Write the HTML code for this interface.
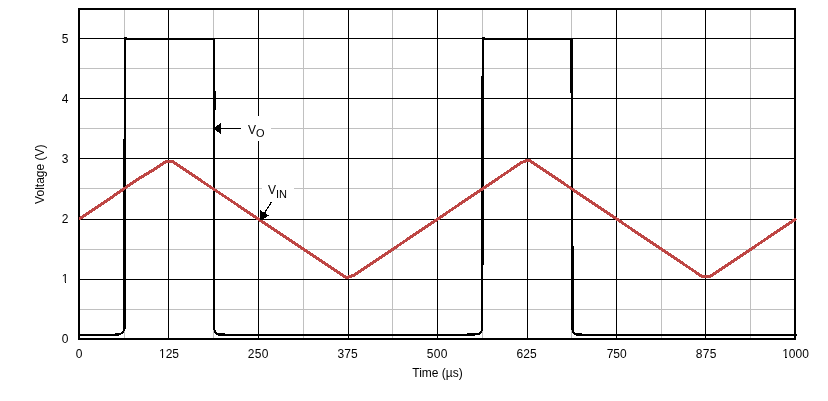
<!DOCTYPE html>
<html lang="en"><head><meta charset="utf-8"><title>Voltage vs Time</title>
<style>html,body{margin:0;padding:0;background:#fff}body{width:828px;height:401px;overflow:hidden}svg{display:block}text{font-family:"Liberation Sans",Arial,Helvetica,sans-serif;fill:#000}</style>
</head><body>
<svg width="828" height="401" viewBox="0 0 828 401">
<rect x="0" y="0" width="828" height="401" fill="#fff"/>
<g shape-rendering="crispEdges">
<g fill="#c0c0c0">
<rect x="124" y="10" width="1" height="328"/>
<rect x="213" y="10" width="1" height="328"/>
<rect x="303" y="10" width="1" height="328"/>
<rect x="392" y="10" width="1" height="328"/>
<rect x="482" y="10" width="1" height="328"/>
<rect x="571" y="10" width="1" height="328"/>
<rect x="661" y="10" width="1" height="328"/>
<rect x="750" y="10" width="1" height="328"/>
<rect x="80" y="68" width="714" height="1"/>
<rect x="80" y="128" width="714" height="1"/>
<rect x="80" y="188" width="714" height="1"/>
<rect x="80" y="249" width="714" height="1"/>
<rect x="80" y="309" width="714" height="1"/>
</g>
<g fill="#000">
<rect x="168" y="10" width="1" height="328"/>
<rect x="258" y="10" width="1" height="328"/>
<rect x="348" y="10" width="1" height="328"/>
<rect x="437" y="10" width="1" height="328"/>
<rect x="527" y="10" width="1" height="328"/>
<rect x="616" y="10" width="1" height="328"/>
<rect x="705" y="10" width="1" height="328"/>
<rect x="80" y="38" width="714" height="1"/>
<rect x="80" y="98" width="714" height="1"/>
<rect x="80" y="158" width="714" height="1"/>
<rect x="80" y="219" width="714" height="1"/>
<rect x="80" y="279" width="714" height="1"/>
</g>
<rect x="241" y="116" width="30" height="25" fill="#fff"/>
<rect x="262" y="177" width="32" height="25" fill="#fff"/>
<rect x="79" y="9" width="716" height="330" fill="none" stroke="#000" stroke-width="2"/>
</g>
<g fill="none" stroke="#000" stroke-width="2" stroke-linejoin="miter" shape-rendering="crispEdges">
<path d="M79,335 H114 C119,335 122.5,334 124,330.5 C124.7,329 125,327 125,324 V39 H214 V326 C214,329.5 214.4,331 215.4,332.6 C216.5,334.4 218,335 221,335 H468 C475,335 479,334.4 480.8,332.6 C481.8,331.6 482,330.5 482,328 V270 L483,260 V39 H571.5 V100 L572,110 V326 C572,329.5 572.4,331 573.4,332.6 C574.5,334.4 576,335 579,335 H797"/>
</g>
<g fill="#000" shape-rendering="crispEdges">
<rect x="123" y="139" width="1" height="191"/>
<rect x="124" y="37" width="3" height="1"/>
<rect x="215" y="91" width="1" height="19"/>
<rect x="481" y="76" width="1" height="255"/>
<rect x="482" y="37" width="3" height="1"/>
<rect x="570" y="38" width="1" height="55"/>
<rect x="573" y="246" width="1" height="84"/>
<rect x="115" y="333" width="6" height="1"/>
<rect x="217" y="333" width="8" height="1"/>
<rect x="467" y="333" width="9" height="1"/>
<rect x="575" y="333" width="7" height="1"/>
</g>
<polyline points="79.09,219.05 111.18,197.64 124.08,188.61 139.91,177.97 153.81,169.61 166.34,161.31 172.29,161.43 346.16,277.70 354.04,275.29 521.68,162.45 527.05,160.34 529.34,160.34 702.14,276.49 710.16,276.49 796.13,218.76" fill="none" stroke="#be4644" stroke-width="3" stroke-linejoin="miter" shape-rendering="crispEdges"/>
<rect x="221" y="128" width="20" height="1" fill="#000" shape-rendering="crispEdges"/>
<polygon points="213,128.5 221,123 221,134" fill="#000" shape-rendering="crispEdges"/>
<line x1="271.5" y1="202" x2="264.5" y2="213" stroke="#000" stroke-width="1.2" shape-rendering="crispEdges"/>
<polygon points="259.9,220.6 269.0,215.7 260.0,210.0" fill="#000" shape-rendering="crispEdges"/>
<g font-size="12px">
<text x="248" y="133.5">V<tspan dy="3.8" font-size="11px">O</tspan></text>
<text x="268" y="193.5">V<tspan dy="4.4" font-size="11px">IN</tspan></text>
<text x="68.55" y="43.05" text-anchor="end">5</text>
<text x="68.55" y="103.11" text-anchor="end">4</text>
<text x="68.55" y="163.17" text-anchor="end">3</text>
<text x="68.55" y="223.23" text-anchor="end">2</text>
<text x="68.55" y="283.29" text-anchor="end">1</text>
<text x="68.55" y="343.35" text-anchor="end">0</text>
<text x="79.2" y="358.25" text-anchor="middle">0</text>
<text x="169.0" y="358.25" text-anchor="middle">125</text>
<text x="258.25" y="358.25" text-anchor="middle" letter-spacing="0.3">250</text>
<text x="347.6" y="358.25" text-anchor="middle">375</text>
<text x="437.25" y="358.25" text-anchor="middle" letter-spacing="0.3">500</text>
<text x="526.6" y="358.25" text-anchor="middle">625</text>
<text x="616.7" y="358.25" text-anchor="middle">750</text>
<text x="706.25" y="358.25" text-anchor="middle" letter-spacing="0.3">875</text>
<text x="795.5" y="358.25" text-anchor="middle">1000</text>
<text x="437.5" y="376.8" text-anchor="middle">Time (µs)</text>
<text transform="translate(44,174.2) rotate(-90)" text-anchor="middle">Voltage (V)</text>
</g>
<g fill="#fff" shape-rendering="crispEdges">
<rect x="61" y="282" width="4" height="1"/><rect x="66" y="282" width="3" height="1"/>
<rect x="158" y="357" width="4" height="1"/><rect x="163" y="357" width="3" height="1"/>
<rect x="782" y="357" width="3" height="1"/><rect x="787" y="357" width="2" height="1"/>
</g>
</svg></body></html>
